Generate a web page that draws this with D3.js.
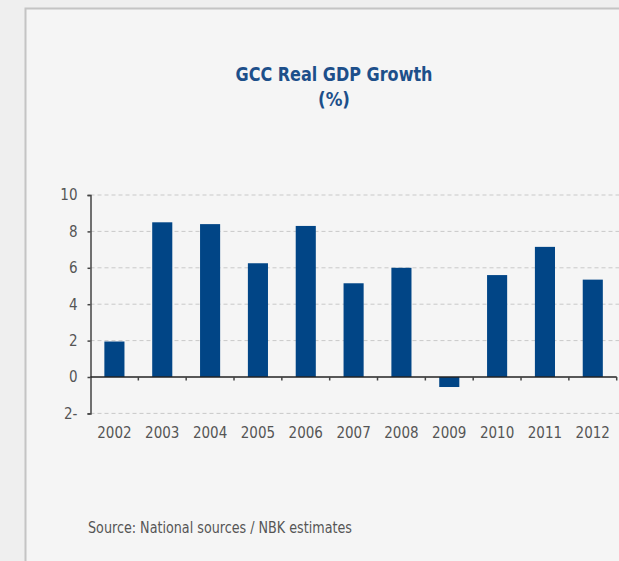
<!DOCTYPE html>
<html>
<head>
<meta charset="utf-8">
<script src="https://cdn.jsdelivr.net/npm/d3@7"></script>
<style>
  html, body { margin: 0; padding: 0; background: #efefef; }
  svg { display: block; }
</style>
</head>
<body>
<svg id="chart" width="619" height="561"></svg>
<script>
// GCC real GDP growth, % per year
const years = ["2002", "2003", "2004", "2005", "2006", "2007", "2008", "2009", "2010", "2011", "2012"];
const growth = [1.95, 8.5, 8.4, 6.25, 8.3, 5.15, 6.0, -0.55, 5.6, 7.15, 5.35];
const yTicks = [10, 8, 6, 4, 2, 0, -2];
const yTickLabels = ["10", "8", "6", "4", "2", "0", "2-"];
const titleLines = ["GCC Real GDP Growth", "(%)"];
const sourceNote = "Source: National sources / NBK estimates";

const svg = d3.select("#chart");
const W = 619, H = 561;
const font = "'DejaVu Sans Condensed', 'DejaVu Sans', sans-serif";

// page panel
svg.append("rect").attr("x", 0).attr("y", 0).attr("width", W).attr("height", H).attr("fill", "#efefef");
svg.append("rect").attr("x", 25.5).attr("y", 8.5).attr("width", W).attr("height", H)
  .attr("fill", "#f5f5f5").attr("stroke", "#c4c4c4").attr("stroke-width", 2);

const plot = { left: 90.5, right: 616.7, top: 195, bottom: 413.4 };

const x = d3.scaleBand().domain(years).range([plot.left, plot.right]).paddingInner(0.58).paddingOuter(0.29);
const y = d3.scaleLinear().domain([-2, 10]).range([plot.bottom, plot.top]);

// title, narrowed to a condensed look
const titleWidths = [197, 32];
const titleBaselines = [81, 105.5];
const title = svg.append("text").attr("text-anchor", "middle").attr("font-family", font)
  .attr("font-stretch", "condensed")
  .attr("font-weight", "bold").attr("font-size", 19).attr("fill", "#1d4f8a");
titleLines.forEach((t, i) => {
  title.append("tspan").attr("x", 334).attr("y", titleBaselines[i])
    .attr("textLength", titleWidths[i]).attr("lengthAdjust", "spacingAndGlyphs").text(t);
});

// dashed gridlines (the zero line is drawn as the category axis)
svg.append("g").selectAll("line").data(yTicks.filter(d => d !== 0)).join("line")
  .attr("x1", plot.left).attr("x2", W)
  .attr("y1", d => y(d)).attr("y2", d => y(d))
  .attr("stroke", "#c9c9c9").attr("stroke-width", 1).attr("stroke-dasharray", "4,3");

// bars
svg.append("g").selectAll("rect").data(years).join("rect")
  .attr("x", d => x(d))
  .attr("width", x.bandwidth())
  .attr("y", (d, i) => y(Math.max(0, growth[i])))
  .attr("height", (d, i) => Math.abs(y(growth[i]) - y(0)))
  .attr("fill", "#014586");

// value axis
const yAxis = d3.axisLeft(y).tickValues(yTicks).tickSize(3).tickPadding(10)
  .tickFormat((d, i) => yTickLabels[i]);
const gy = svg.append("g").attr("transform", `translate(${plot.left},0)`).call(yAxis);
gy.select(".domain").attr("stroke", "#444").attr("stroke-width", 1.5);
gy.selectAll(".tick line").attr("stroke", "#444").attr("stroke-width", 1.5);
gy.selectAll(".tick text").attr("font-family", font).attr("font-stretch", "condensed")
  .attr("font-size", 15).attr("fill", "#555");

// category axis along zero, ticks between categories
svg.append("line").attr("x1", plot.left).attr("x2", plot.right)
  .attr("y1", y(0)).attr("y2", y(0)).attr("stroke", "#222").attr("stroke-width", 1.5);
const step = x.step();
svg.append("g").selectAll("line").data(years).join("line")
  .attr("x1", (d, i) => plot.left + (i + 1) * step)
  .attr("x2", (d, i) => plot.left + (i + 1) * step)
  .attr("y1", y(0)).attr("y2", y(0) + 3.5)
  .attr("stroke", "#444").attr("stroke-width", 1.5);

// category labels
svg.append("g").selectAll("text").data(years).join("text")
  .attr("x", d => x(d) + x.bandwidth() / 2)
  .attr("y", 438)
  .attr("text-anchor", "middle")
  .attr("font-family", font).attr("font-stretch", "condensed")
  .attr("font-size", 15).attr("fill", "#555")
  .text(d => d);

// source note
svg.append("text").attr("x", 88).attr("y", 533)
  .attr("font-family", font).attr("font-stretch", "condensed")
  .attr("font-size", 15.5).attr("fill", "#555")
  .attr("textLength", 264).attr("lengthAdjust", "spacingAndGlyphs")
  .text(sourceNote);
</script>
</body>
</html>
